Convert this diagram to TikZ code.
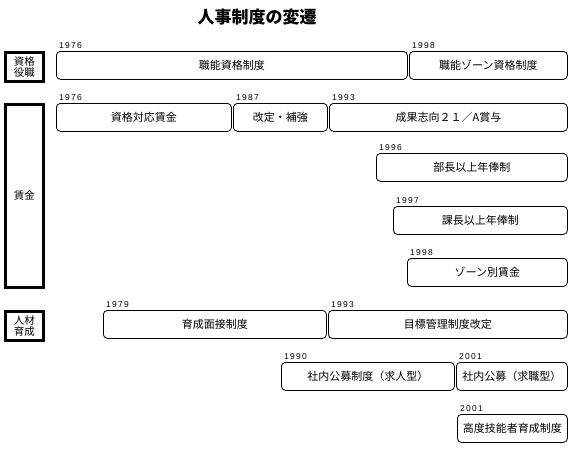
\documentclass[tikz,border=0pt]{standalone}
\usepackage{fontspec}
\setmainfont{Liberation Sans}
\newfontfamily\jp{Noto Sans CJK JP}
\newfontfamily\yrfont[LetterSpace=15]{Liberation Sans}
\tikzset{
  ev/.style={draw, rounded corners=4pt, line width=0.8pt, anchor=north west, inner sep=0pt,
    minimum height=28pt, font=\jp\fontsize{11}{12}\selectfont},
  yr/.style={anchor=south west, inner sep=0pt, font=\yrfont\fontsize{8.5}{10}\selectfont},
  cat/.style={draw, line width=2.6pt, anchor=north west, inner sep=0pt, minimum width=38pt,
    align=center, font=\jp\fontsize{10.5}{11}\selectfont}
}
\newcommand\evbox[7]{%
  \node[ev, minimum width=#4pt] (#1) at (#2,#3) {#6};
  \node[yr] (#1y) at ([xshift=3pt,yshift=2pt]#1.north west) {#7};}
\begin{document}
\begin{tikzpicture}[x=1pt,y=-1pt]
\useasboundingbox (0,0) rectangle (572,450);
\node[font=\jp\bfseries\fontsize{17}{19}\selectfont] (title) at (257,17) {人事制度の変遷};
% categories
\node[cat, minimum height=29pt] (c1) at (4,51) {資格\\役職};
\node[cat, minimum height=183pt] (c2) at (4,103) {賃金};
\node[cat, minimum height=29pt] (c3) at (4,310) {人材\\育成};
% row 1
\evbox{a1}{56}{51}{351}{28}{職能資格制度}{1976}
\evbox{a2}{409}{51}{158}{28}{職能ゾーン資格制度}{1998}
% wages
\evbox{b1}{56}{103}{175}{28}{資格対応賃金}{1976}
\evbox{b2}{233}{103}{94}{28}{改定・補強}{1987}
\evbox{b3}{329}{103}{238}{28}{成果志向２１／A賞与}{1993}
\evbox{b4}{376}{153}{191}{28}{部長以上年俸制}{1996}
\evbox{b5}{393}{206}{174}{28}{課長以上年俸制}{1997}
\evbox{b6}{407}{258}{160}{28}{ゾーン別賃金}{1998}
% development
\evbox{d1}{103}{310}{223}{28}{育成面接制度}{1979}
\evbox{d2}{328}{310}{239}{28}{目標管理制度改定}{1993}
\evbox{d3}{281}{362}{173}{28}{社内公募制度（求人型）}{1990}
\evbox{d4}{456}{362}{111}{28}{社内公募（求職型）}{2001}
\evbox{d5}{457}{414}{110}{28}{高度技能者育成制度}{2001}
\end{tikzpicture}
\end{document}
